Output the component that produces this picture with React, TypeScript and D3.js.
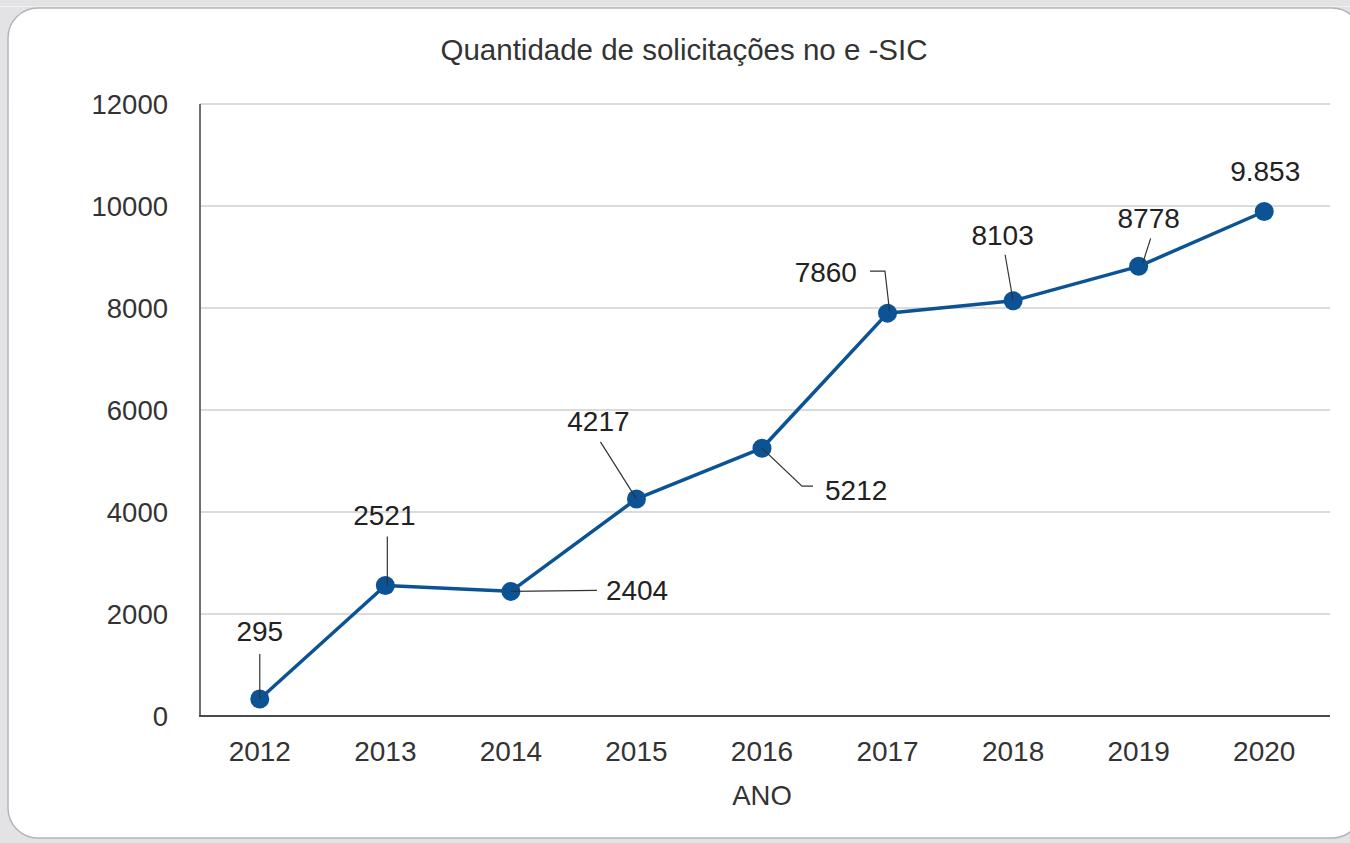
import React from "react";
import * as d3 from "d3";

const years = ["2012", "2013", "2014", "2015", "2016", "2017", "2018", "2019", "2020"];
const requests = [295, 2521, 2404, 4217, 5212, 7860, 8103, 8778, 9853];
const valueLabels = ["295", "2521", "2404", "4217", "5212", "7860", "8103", "8778", "9.853"];
const yTicks = [0, 2000, 4000, 6000, 8000, 10000, 12000];
const chartTitle = "Quantidade de solicitações no e -SIC";
const xAxisTitle = "ANO";

// annotation layout relative to each point: text offset, anchor, leader polyline
const labelLayout: { dx: number; dy: number; anchor: string; leader: [number, number][] }[] = [
  { dx: 0, dy: -58, anchor: "middle", leader: [[0, -45], [0, 0]] },
  { dx: -1, dy: -60, anchor: "middle", leader: [[2, -49], [2, 0]] },
  { dx: 95, dy: 8.5, anchor: "start", leader: [[0, 0], [86, -1]] },
  { dx: -38, dy: -68, anchor: "middle", leader: [[-36, -57], [0, 0]] },
  { dx: 63, dy: 52, anchor: "start", leader: [[0, 0], [40, 38], [51, 38]] },
  { dx: -30.6, dy: -31, anchor: "end", leader: [[-17.6, -42], [-2.6, -42], [2, -2]] },
  { dx: -10.5, dy: -55.7, anchor: "middle", leader: [[-8, -46], [0, 0]] },
  { dx: 10, dy: -38, anchor: "middle", leader: [[12, -28], [4, -3]] },
  { dx: 1, dy: -30.5, anchor: "middle", leader: [] },
];

const W = 1350;
const H = 843;
const FONT = "'Liberation Sans', Arial, sans-serif";

export default function App() {
  const plotLeft = 200;
  const plotRight = 1330;
  const x = d3.scalePoint<string>().domain(years).range([197, 1327]).padding(0.5);
  const y = d3.scaleLinear().domain([0, 12000]).range([716, 104]);

  const pts = years.map((yr, i) => [x(yr) as number, y(requests[i]) - 2] as [number, number]);
  const line = d3.line<[number, number]>()(pts) || "";
  const leaderLine = d3.line<[number, number]>();

  return (
    <svg
      width={W}
      height={H}
      style={{ position: "absolute", left: 0, top: 0, display: "block" }}
      fontFamily={FONT}
    >
      <rect x={0} y={0} width={W} height={H} fill="#e3e3e6" />
      <line x1={0} x2={W} y1={6.5} y2={6.5} stroke="#f0f0f2" strokeWidth={1} />
      <rect x={8} y={8} width={1354} height={830} rx={30} ry={30} fill="#ffffff" stroke="#b5b5b5" strokeWidth={1.5} />

      <text x={684} y={60} textAnchor="middle" fontSize={29.5} fill="#333">
        {chartTitle}
      </text>

      {yTicks.map((t) => (
        <g key={t}>
          {t !== 0 && (
            <line x1={plotLeft} x2={plotRight} y1={y(t)} y2={y(t)} stroke="#cfcfcf" strokeWidth={1.5} />
          )}
          <text x={168} y={y(t) + 10} textAnchor="end" fontSize={27.5} fill="#333">
            {t}
          </text>
        </g>
      ))}

      <line x1={plotLeft} x2={plotLeft} y1={104} y2={717} stroke="#6e6e6e" strokeWidth={2} />
      <line x1={plotLeft - 1} x2={plotRight} y1={716} y2={716} stroke="#4a4a4a" strokeWidth={2} />

      {years.map((yr) => (
        <text key={yr} x={x(yr) as number} y={761} textAnchor="middle" fontSize={28} fill="#333">
          {yr}
        </text>
      ))}

      <text x={762} y={805} textAnchor="middle" fontSize={27.5} fill="#333">
        {xAxisTitle}
      </text>

      <path d={line} fill="none" stroke="#0b5394" strokeWidth={3.5} strokeLinejoin="round" />
      {pts.map((p, i) => (
        <circle key={i} cx={p[0]} cy={p[1]} r={9.5} fill="#0b5394" />
      ))}

      {pts.map((p, i) => {
        const L = labelLayout[i];
        const d =
          L.leader.length > 1
            ? leaderLine(L.leader.map(([a, b]) => [p[0] + a, p[1] + b] as [number, number])) || ""
            : "";
        return (
          <g key={"lab" + i}>
            {d && <path d={d} fill="none" stroke="#333" strokeWidth={1.2} />}
            <text x={p[0] + L.dx} y={p[1] + L.dy} textAnchor={L.anchor as any} fontSize={28} fill="#222">
              {valueLabels[i]}
            </text>
          </g>
        );
      })}
    </svg>
  );
}
